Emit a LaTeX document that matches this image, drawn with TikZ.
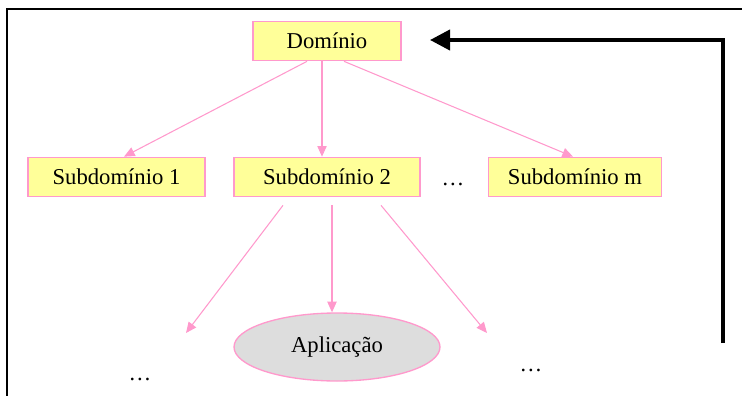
\documentclass[tikz,border=0pt]{standalone}
\usepackage{fontspec}
\setmainfont{Liberation Serif}
\usetikzlibrary{arrows.meta,shapes.geometric,calc}
\definecolor{boxfill}{HTML}{FFFF99}
\definecolor{pinkline}{HTML}{FF99CC}
\definecolor{ellfill}{HTML}{DDDDDD}
\begin{document}
\begin{tikzpicture}[x=0.75pt,y=-0.75pt,
  txt/.style={font=\fontsize{17}{20}\selectfont},
  box/.style={txt, draw=pinkline, fill=boxfill, line width=1pt, inner sep=0pt, minimum height=29.5pt},
  ell/.style={txt, ellipse, draw=pinkline, fill=ellfill, line width=1pt, inner sep=0pt, minimum width=154.5pt, minimum height=51pt},
  dots/.style={txt, anchor=base, inner sep=0pt},
  pinkarrow/.style={draw=pinkline, line width=0.8pt, -{Triangle[length=8pt,width=7pt]}},
  feedback/.style={draw=black, line width=3pt, line join=miter, -{Triangle[length=15pt,width=15pt]}},
  frameline/.style={draw=black, line width=1.4pt}]
\useasboundingbox (0,0) rectangle (742,396);
% frame
\coordinate (fr1) at (742,9);
\coordinate (fr2) at (7,9);
\coordinate (fr3) at (7,396);
\draw[frameline] (fr1) -- (fr2) -- (fr3);
% nodes
\node[box, minimum width=111pt] (d) at (327,41) {Domínio};
\node[box, minimum width=132.75pt] (s1) at (116.5,177) {Subdomínio 1};
\node[box, minimum width=139.5pt] (s2) at (327,177) {Subdomínio 2};
\node[box, minimum width=129.75pt] (sm) at (575,177) {Subdomínio m};
\node[dots] (dm) at (453,185) {…};
\node[ell] (app) at (337,347) {Aplicação};
\node[dots] (dl) at (140,380) {…};
\node[dots] (dr) at (531,371) {…};
% pink connectors
\draw[pinkarrow] ($(d.south)+(-20,0)$) -- ($(s1.north)+(7.5,0)$);
\draw[pinkarrow] ($(d.south)+(-5,0)$) -- ($(s2.north)+(-5,0)$);
\draw[pinkarrow] ($(d.south)+(17,0)$) -- ($(sm.north)+(-2,0)$);
\coordinate (e1) at (186,333);
\coordinate (e3) at (487,333);
\draw[pinkarrow] ($(s2.south)+(-44,8)$) -- (e1);
\draw[pinkarrow] ($(s2.south)+(5,8)$) -- (app.north -| {$(s2.south)+(5,8)$});
\draw[pinkarrow] ($(s2.south)+(54,8)$) -- (e3);
% feedback arrow
\coordinate (fb) at (723,343);
\coordinate (fc) at (723,40);
\coordinate (ft) at (430,40);
\draw[feedback] (fb) -- (fc) -- (ft);
\end{tikzpicture}
\end{document}
